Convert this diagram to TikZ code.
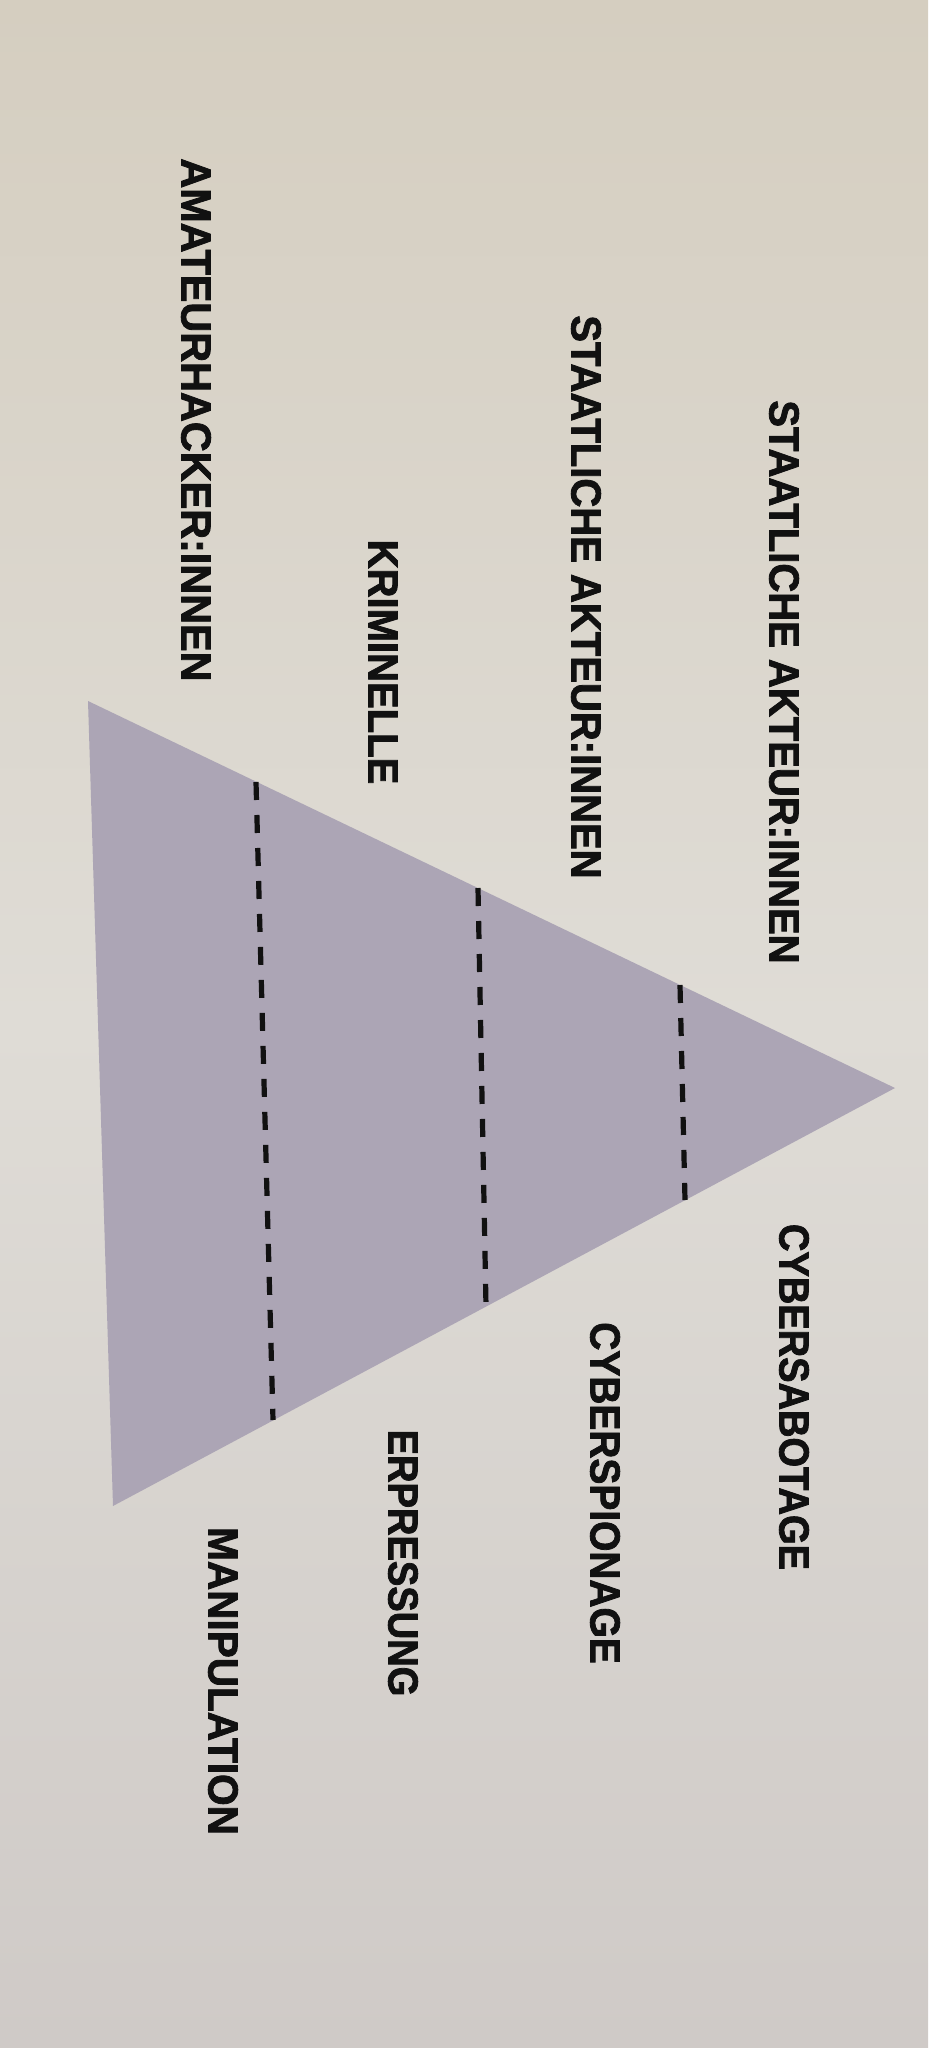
\documentclass[tikz,border=0pt]{standalone}
\usepackage{fontspec}
\setmainfont{Liberation Sans}[BoldFeatures={FakeBold=2}]
\definecolor{bgtop}{HTML}{D5CEC0}
\definecolor{bgmid}{HTML}{DFDCD6}
\definecolor{bgbot}{HTML}{CFCAC7}
\definecolor{pyr}{HTML}{ACA5B5}
\definecolor{ink}{HTML}{111111}
\begin{document}
\begin{tikzpicture}[x=0.5pt,y=-0.5pt,
  lbl/.style={rotate=-90, inner sep=0pt, text=ink, font=\fontsize{21}{21}\selectfont\bfseries},
  tier/.style={draw=ink, line width=2.6pt, dash pattern=on 9pt off 7.5pt}]
\useasboundingbox (0,0) rectangle (928,2048);
\shade[top color=bgtop, bottom color=bgbot, middle color=bgmid] (0,0) rectangle (928,2048);
% pyramid corners
\coordinate (tl) at (88,701);
\coordinate (apex) at (895,1088);
\coordinate (bl) at (113,1506);
\fill[pyr] (tl) -- (apex) -- (bl) -- cycle;
% tier separators
\coordinate (d1a) at (256,782);
\coordinate (d1b) at (273,1420);
\coordinate (d2a) at (478,888);
\coordinate (d2b) at (486,1306);
\coordinate (d3a) at (680,985);
\coordinate (d3b) at (685,1200);
\draw[tier] (d1a) -- (d1b);
\draw[tier] (d2a) -- (d2b);
\draw[tier] (d3a) -- (d3b);
% actors
\node[lbl] (s1) at (784,682) {\scalebox{0.953}[1]{STAATLICHE AKTEUR:INNEN}};
\node[lbl] (s2) at (586,597) {\scalebox{0.953}[1]{STAATLICHE AKTEUR:INNEN}};
\node[lbl] (krim) at (383,662) {\scalebox{0.953}[1]{KRIMINELLE}};
\node[lbl] (amat) at (196,420) {\scalebox{0.985}[1]{AMATEURHACKER:INNEN}};
% threats
\node[lbl] (sab) at (794,1397) {\scalebox{0.906}[1]{CYBERSABOTAGE}};
\node[lbl] (spi) at (605,1493) {\scalebox{0.926}[1]{CYBERSPIONAGE}};
\node[lbl] (erp) at (403,1563) {\scalebox{0.907}[1]{ERPRESSUNG}};
\node[lbl] (man) at (223,1681) {\scalebox{0.965}[1]{MANIPULATION}};
\end{tikzpicture}
\end{document}
